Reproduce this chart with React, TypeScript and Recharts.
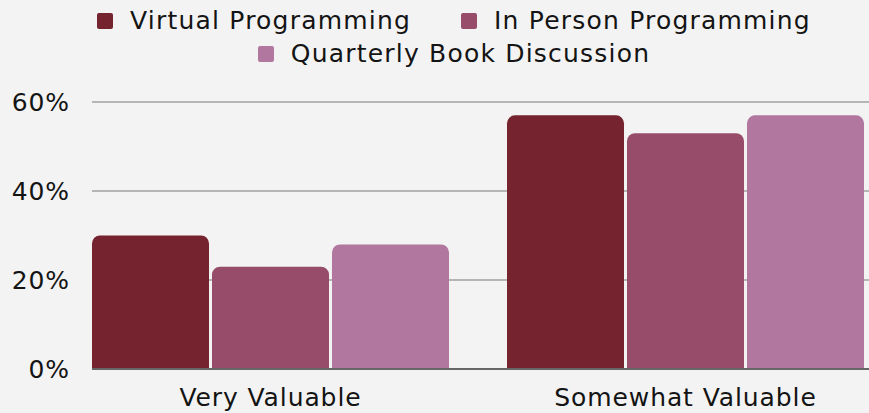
import React from "react";
import { BarChart, Bar, XAxis, YAxis, CartesianGrid } from "recharts";

const categories = ["Very Valuable", "Somewhat Valuable"];
const virtualProgramming = [30, 57];
const inPersonProgramming = [23, 53];
const quarterlyBookDiscussion = [28, 57];
const yTicks = [0, 20, 40, 60];

const seriesNames = ["Virtual Programming", "In Person Programming", "Quarterly Book Discussion"];
const seriesKeys = ["virtual", "inPerson", "quarterly"];
const seriesColors = ["#762330", "#974d69", "#b1779f"];

const data = categories.map((c, i) => ({
  category: c,
  virtual: virtualProgramming[i],
  inPerson: inPersonProgramming[i],
  quarterly: quarterlyBookDiscussion[i],
}));

const FONT = "'DejaVu Sans', sans-serif";
const TEXT = "#141414";

const XTick = (props: any) => {
  const { x, y, payload } = props;
  return (
    <text x={x} y={y} dy={37} textAnchor="middle" fill={TEXT} fontFamily={FONT} fontSize={25} letterSpacing={0.9}>
      {payload.value}
    </text>
  );
};

const YTick = (props: any) => {
  const { x, y, payload } = props;
  return (
    <text x={x} y={y} dy={9} textAnchor="end" fill={TEXT} fontFamily={FONT} fontSize={25} letterSpacing={0.9}>
      {payload.value + "%"}
    </text>
  );
};

const LegendBlock = () => (
  <div
    style={{
      position: "absolute",
      left: 69,
      top: 4,
      width: 770,
      display: "flex",
      flexWrap: "wrap",
      justifyContent: "center",
      fontFamily: FONT,
      fontSize: 25,
      letterSpacing: 1.2,
      color: TEXT,
      lineHeight: "33px",
    }}
  >
    {seriesNames.map((n, i) => (
      <div key={n} style={{ display: "flex", alignItems: "center", margin: "0 25px" }}>
        <span style={{ width: 16, height: 16, background: seriesColors[i], borderRadius: 2, marginRight: 17, display: "inline-block" }} />
        <span>{n}</span>
      </div>
    ))}
  </div>
);

export default function App() {
  return (
    <div style={{ position: "absolute", left: 0, top: 0, width: 869, height: 413, background: "#f3f3f3", overflow: "hidden" }}>
      <BarChart
        width={869}
        height={413}
        data={data}
        margin={{ top: 102, right: 0, bottom: 0, left: 0 }}
        barCategoryGap={29}
        barGap={3}
      >
        <CartesianGrid vertical={false} stroke="#b5b5b5" strokeWidth={2} />
        <XAxis
          dataKey="category"
          height={44}
          padding={{ left: -29, right: -24 }}
          tickLine={false}
          tickSize={0}
          tickMargin={0}
          axisLine={{ stroke: "#666666", strokeWidth: 2 }}
          tick={<XTick />}
          interval={0}
        />
        <YAxis
          width={92}
          domain={[0, 60]}
          ticks={yTicks}
          axisLine={false}
          tickLine={false}
          tickSize={0}
          tickMargin={22}
          tick={<YTick />}
          interval={0}
        />
        {seriesKeys.map((k, i) => (
          <Bar key={k} dataKey={k} name={seriesNames[i]} fill={seriesColors[i]} radius={[8, 8, 0, 0]} isAnimationActive={false} />
        ))}
      </BarChart>
      <LegendBlock />
    </div>
  );
}
